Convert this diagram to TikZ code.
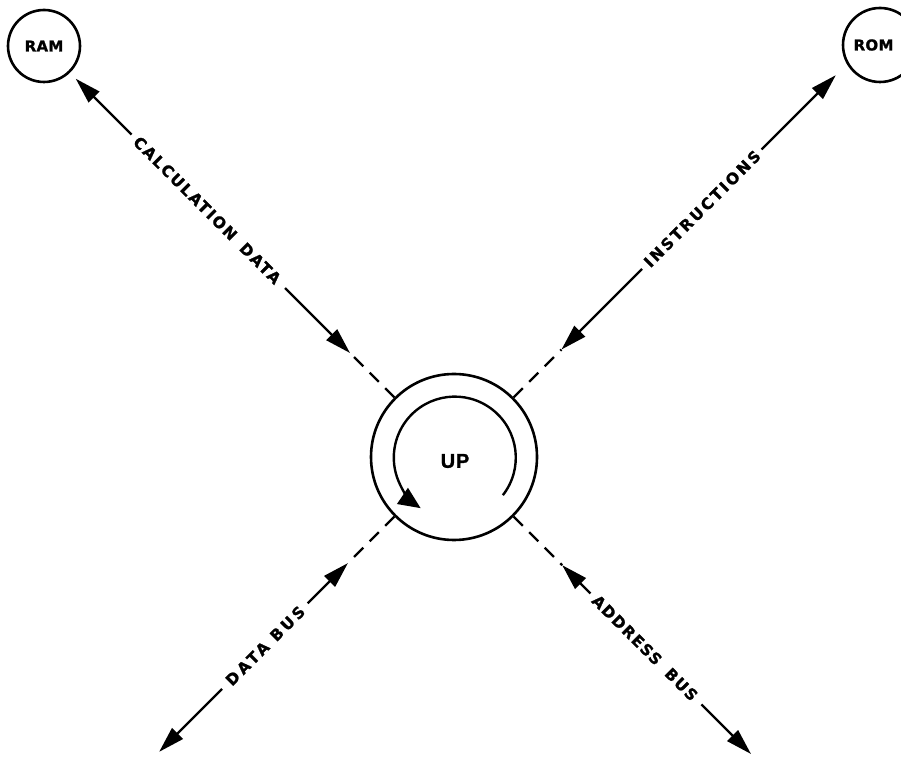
\documentclass[tikz,border=0pt]{standalone}
\usepackage{fontspec}
\usetikzlibrary{arrows.meta,calc}
\newfontfamily\labA[LetterSpace=12,BoldFeatures={FakeBold=1.2}]{DejaVu Sans}
\newfontfamily\labB[LetterSpace=16,BoldFeatures={FakeBold=1.2}]{DejaVu Sans}
\newfontfamily\labC[LetterSpace=20,BoldFeatures={FakeBold=1.2}]{DejaVu Sans}
\newfontfamily\labD[LetterSpace=10,BoldFeatures={FakeBold=1.2}]{DejaVu Sans}
\newfontfamily\labE[LetterSpace=2,BoldFeatures={FakeBold=1.2}]{DejaVu Sans}
\newfontfamily\labF[LetterSpace=4,BoldFeatures={FakeBold=1.2}]{Liberation Sans}
\begin{document}
\begin{tikzpicture}[x=1pt,y=1pt,
  ln/.style={line width=2.4pt},
  arr/.style={ln,-{Triangle[length=26pt,width=15pt]}},
  dsh/.style={ln,dash pattern=on 13pt off 9pt},
  ring/.style={circle,draw,line width=2.6pt,inner sep=0pt},
  lab/.style={inner sep=0pt,font=\fontsize{15.5}{17}\selectfont\bfseries},
  small/.style={font=\labE\fontsize{15}{16}\selectfont\bfseries}]
\useasboundingbox (0,0) rectangle (901,757);
\coordinate (c) at (454,300);
\node[ring,minimum size=166pt] (cpu) at (c) {};
\node[inner sep=0pt,font=\labF\fontsize{20}{21}\selectfont\bfseries] (up) at (455,296) {UP};
\node[ring,minimum size=72pt,small] (ram) at (44,711) {RAM};
\node[ring,minimum size=74pt,small] (rom) at (880,712) {\hspace*{-13pt}ROM};
% rotation arrow
\draw[ln,-{Triangle[length=22pt,width=19pt]}] ($(c)+(-38:62)$) arc[start angle=-38,end angle=236,radius=61];
% top left
\coordinate (tlin) at ($(c)+(135:147)$);
\coordinate (tla) at ($(c)+(135:239)$);
\coordinate (tlb) at ($(c)+(135:456)$);
\coordinate (tlout) at ($(c)+(135:535)$);
\node[lab,rotate=-45] (tllab) at ($(c)+(135:349)$) {\labA CALCULATION\hspace{4pt} DATA};
\draw[dsh] (cpu.135) -- (tlin);
\draw[arr] (tla) -- (tlin);
\draw[arr] (tlb) -- (tlout);
% top right
\coordinate (trin) at ($(c)+(45:152)$);
\coordinate (tra) at ($(c)+(45:266)$);
\coordinate (trb) at ($(c)+(45:435)$);
\coordinate (trout) at ($(c)+(45:540)$);
\node[lab,rotate=45] (trlab) at ($(c)+(45:351)$) {\labB INSTRUCTIONS};
\draw[dsh] (cpu.45) -- (trin);
\draw[arr] (tra) -- (trin);
\draw[arr] (trb) -- (trout);
% bottom left
\coordinate (blin) at ($(c)+(225:150)$);
\coordinate (bla) at ($(c)+(225:207)$);
\coordinate (blb) at ($(c)+(225:328)$);
\coordinate (blout) at ($(c)+(225:417)$);
\node[lab,rotate=45] (bllab) at ($(c)+(225:267)$) {\labC DATA BUS};
\draw[dsh] (cpu.225) -- (blin);
\draw[arr] (bla) -- (blin);
\draw[arr] (blb) -- (blout);
% bottom right
\coordinate (brin) at ($(c)+(315:153)$);
\coordinate (bra) at ($(c)+(315:193)$);
\coordinate (brb) at ($(c)+(315:350)$);
\coordinate (brout) at ($(c)+(315:420)$);
\node[lab,rotate=-45] (brlab) at ($(c)+(315:270)$) {\labD ADDRESS\hspace{5pt} BUS};
\draw[dsh] (cpu.315) -- (brin);
\draw[arr] (bra) -- (brin);
\draw[arr] (brb) -- (brout);
\end{tikzpicture}
\end{document}
